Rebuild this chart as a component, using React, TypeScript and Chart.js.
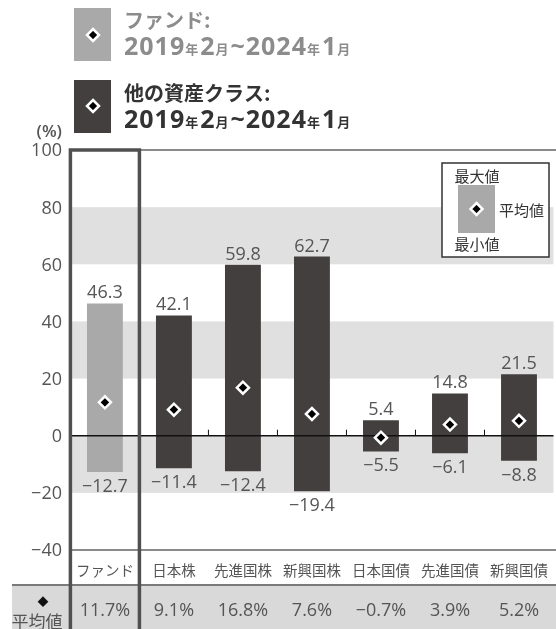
import React, { useEffect, useRef } from "react";
import { Chart, registerables } from "chart.js";

Chart.register(...registerables);

const categories = ["ファンド", "日本株", "先進国株", "新興国株", "日本国債", "先進国債", "新興国債"];
const maxValues = [46.3, 42.1, 59.8, 62.7, 5.4, 14.8, 21.5];
const minValues = [-12.7, -11.4, -12.4, -19.4, -5.5, -6.1, -8.8];
const avgValues = [11.7, 9.1, 16.8, 7.6, -0.7, 3.9, 5.2];
const yTicks = [100, 80, 60, 40, 20, 0, -20, -40];
const bandRanges = [
  [60, 80],
  [20, 40],
  [-20, 0],
];
const legendFund = ["ファンド:", "2019", "年", "2", "月", "~", "2024", "年", "1", "月"];
const legendOther = ["他の資産クラス:", "2019", "年", "2", "月", "~", "2024", "年", "1", "月"];
const boxLegend = ["最大値", "平均値", "最小値"];
const avgRowLabel = "平均値";

const FUND_COLOR = "#a9a9a9";
const DARK_COLOR = "#433f3f";
const TEXT_COLOR = "#555555";
const NUM_FONT = '"Open Sans", "Noto Sans CJK JP", sans-serif';
const JP_FONT = '"Noto Sans CJK JP", "Open Sans", sans-serif';

const fmt = (v: number) => (v < 0 ? "\u2212" + Math.abs(v).toFixed(1) : v.toFixed(1));

function diamond(ctx: CanvasRenderingContext2D, x: number, y: number, r: number, bw: number) {
  ctx.save();
  ctx.beginPath();
  ctx.moveTo(x, y - r);
  ctx.lineTo(x + r, y);
  ctx.lineTo(x, y + r);
  ctx.lineTo(x - r, y);
  ctx.closePath();
  ctx.fillStyle = "#000";
  ctx.fill();
  ctx.lineWidth = bw;
  ctx.strokeStyle = "#fff";
  ctx.stroke();
  ctx.restore();
}

function text(
  ctx: CanvasRenderingContext2D,
  s: string,
  x: number,
  y: number,
  font: string,
  color: string,
  align: CanvasTextAlign = "center",
  baseline: CanvasTextBaseline = "alphabetic"
) {
  ctx.font = font;
  ctx.fillStyle = color;
  ctx.textAlign = align;
  ctx.textBaseline = baseline;
  ctx.fillText(s, x, y);
}

function dateLine(ctx: CanvasRenderingContext2D, parts: string[], x: number, baseY: number, color: string) {
  let cx = x;
  ctx.save();
  ctx.textAlign = "left";
  ctx.textBaseline = "alphabetic";
  ctx.fillStyle = color;
  for (const p of parts) {
    const small = p === "年" || p === "月";
    ctx.font = small ? `bold 13px ${JP_FONT}` : `bold 25px ${NUM_FONT}`;
    (ctx as any).letterSpacing = small ? "0px" : "1px";
    ctx.fillText(p, cx, baseY - (small ? 1 : 0));
    cx += ctx.measureText(p).width + (small ? 2 : 0);
  }
  ctx.restore();
}

const decorPlugin = {
  id: "decor",
  beforeDatasetsDraw(chart: any) {
    const { ctx, chartArea } = chart;
    const y = chart.scales.y;
    ctx.save();
    ctx.fillStyle = "#e0e0e0";
    for (const [a, b] of bandRanges) {
      const y1 = y.getPixelForValue(b);
      const y2 = y.getPixelForValue(a);
      ctx.fillRect(chartArea.left, y1, chartArea.right - chartArea.left, y2 - y1);
    }
    ctx.restore();
  },
  afterDatasetDraw(chart: any, args: any) {
    if (args.index !== 1) return;
    const { ctx, chartArea } = chart;
    const x = chart.scales.x;
    const y = chart.scales.y;
    const y0 = y.getPixelForValue(0);
    ctx.save();
    ctx.strokeStyle = "#111";
    ctx.lineWidth = 1.5;
    ctx.beginPath();
    ctx.moveTo(chartArea.left, y0);
    ctx.lineTo(chartArea.right, y0);
    ctx.stroke();
    ctx.lineWidth = 1;
    for (let i = 2; i < categories.length; i++) {
      const bx = (x.getPixelForValue(i - 1) + x.getPixelForValue(i)) / 2;
      ctx.beginPath();
      ctx.moveTo(bx, y0 - 6);
      ctx.lineTo(bx, y0);
      ctx.stroke();
    }
    ctx.restore();
  },
  afterDatasetsDraw(chart: any) {
    const { ctx, chartArea } = chart;
    const x = chart.scales.x;
    const y = chart.scales.y;
    const W = chart.width;
    const H = chart.height;
    const split = (x.getPixelForValue(0) + x.getPixelForValue(1)) / 2;
    const yTop = y.getPixelForValue(100);
    const yBot = y.getPixelForValue(-40);
    const rowBottom = yBot + 35;

    ctx.save();
    for (let i = 0; i < categories.length; i++) {
      const cx = x.getPixelForValue(i);
      text(ctx, fmt(maxValues[i]), cx, y.getPixelForValue(maxValues[i]) - 5, `18px ${NUM_FONT}`, TEXT_COLOR);
      text(ctx, fmt(minValues[i]), cx, y.getPixelForValue(minValues[i]) + 20, `18px ${NUM_FONT}`, TEXT_COLOR);
    }

    ctx.strokeStyle = "#8a8a8a";
    ctx.lineWidth = 2;
    ctx.beginPath();
    ctx.moveTo(split, yTop);
    ctx.lineTo(W, yTop);
    ctx.stroke();
    ctx.beginPath();
    ctx.moveTo(chartArea.left, yBot);
    ctx.lineTo(W, yBot);
    ctx.stroke();

    ctx.fillStyle = "#d9d9d9";
    ctx.fillRect(12, rowBottom, W - 12, H - rowBottom);
    ctx.strokeStyle = "#7a7a7a";
    ctx.lineWidth = 2;
    ctx.beginPath();
    ctx.moveTo(12, rowBottom);
    ctx.lineTo(W, rowBottom);
    ctx.stroke();

    for (let i = 0; i < categories.length; i++) {
      const cx = x.getPixelForValue(i);
      text(ctx, categories[i], cx, yBot + 20, `14.5px ${JP_FONT}`, TEXT_COLOR, "center", "middle");
      text(ctx, fmt(avgValues[i]) + "%", cx, rowBottom + 31, `18px ${NUM_FONT}`, TEXT_COLOR);
    }
    text(ctx, "◆", 43, rowBottom + 17, `11px ${JP_FONT}`, "#111", "center", "middle");
    text(ctx, avgRowLabel, 37, rowBottom + 37, `17px ${JP_FONT}`, TEXT_COLOR, "center", "middle");

    ctx.strokeStyle = "#505050";
    ctx.lineWidth = 3.5;
    ctx.beginPath();
    ctx.moveTo(chartArea.left, H);
    ctx.lineTo(chartArea.left, yTop);
    ctx.lineTo(split, yTop);
    ctx.lineTo(split, H);
    ctx.stroke();

    for (const t of yTicks) {
      const s = t < 0 ? "\u2212" + Math.abs(t) : String(t);
      text(ctx, s, 62, y.getPixelForValue(t) + 6.4, `18px ${NUM_FONT}`, TEXT_COLOR, "right");
    }
    text(ctx, "(%)", 62, 137, `600 17px ${NUM_FONT}`, TEXT_COLOR, "right");

    ctx.fillStyle = FUND_COLOR;
    ctx.fillRect(74, 8, 37, 53);
    diamond(ctx, 93, 35, 6, 2.5);
    ctx.fillStyle = DARK_COLOR;
    ctx.fillRect(74, 80, 37, 53);
    diamond(ctx, 93, 106, 6, 2.5);
    text(ctx, legendFund[0], 124, 20, `bold 20px ${JP_FONT}`, "#8c8c8c", "left", "middle");
    dateLine(ctx, legendFund.slice(1), 124, 55, "#8c8c8c");
    text(ctx, legendOther[0], 124, 93, `bold 20px ${JP_FONT}`, "#333333", "left", "middle");
    dateLine(ctx, legendOther.slice(1), 124, 128, "#333333");

    ctx.fillStyle = "#fff";
    ctx.fillRect(442, 163, 107, 94);
    ctx.strokeStyle = "#333";
    ctx.lineWidth = 1.5;
    ctx.strokeRect(442, 163, 107, 94);
    ctx.fillStyle = FUND_COLOR;
    ctx.fillRect(458, 185, 37, 48);
    diamond(ctx, 476.5, 209, 6, 2.5);
    text(ctx, boxLegend[0], 477, 176, `15px ${JP_FONT}`, "#333", "center", "middle");
    text(ctx, boxLegend[1], 499, 210, `15px ${JP_FONT}`, "#333", "left", "middle");
    text(ctx, boxLegend[2], 477, 244, `15px ${JP_FONT}`, "#333", "center", "middle");
    ctx.restore();
  },
};

export default function App() {
  const ref = useRef<HTMLCanvasElement | null>(null);
  useEffect(() => {
    if (!ref.current) return;
    const chart = new Chart(ref.current, {
      type: "bar",
      data: {
        labels: categories,
        datasets: [
          {
            type: "line",
            data: avgValues,
            showLine: false,
            pointStyle: "rectRot",
            pointRadius: 6,
            pointBackgroundColor: "#000",
            pointBorderColor: "#fff",
            pointBorderWidth: 2.5,
            order: 0,
          } as any,
          {
            type: "bar",
            data: categories.map((_, i) => [minValues[i], maxValues[i]]),
            backgroundColor: categories.map((_, i) => (i === 0 ? FUND_COLOR : DARK_COLOR)),
            barPercentage: 0.52,
            categoryPercentage: 1,
            borderWidth: 0,
            order: 1,
          } as any,
        ],
      },
      options: {
        responsive: false,
        animation: false,
        layout: { padding: { left: 70.4, right: 0, top: 150, bottom: 79 } },
        plugins: { legend: { display: false }, tooltip: { enabled: false } },
        scales: {
          x: { display: false, offset: true, grid: { display: false } },
          y: { display: false, min: -40, max: 100 },
        },
      },
      plugins: [decorPlugin],
    });
    return () => chart.destroy();
  }, []);
  return (
    <div style={{ position: "absolute", left: 0, top: 0, width: 556, height: 629, overflow: "hidden", background: "#fff" }}>
      <canvas ref={ref} width={562} height={629} style={{ width: 562, height: 629, display: "block" }} />
    </div>
  );
}
